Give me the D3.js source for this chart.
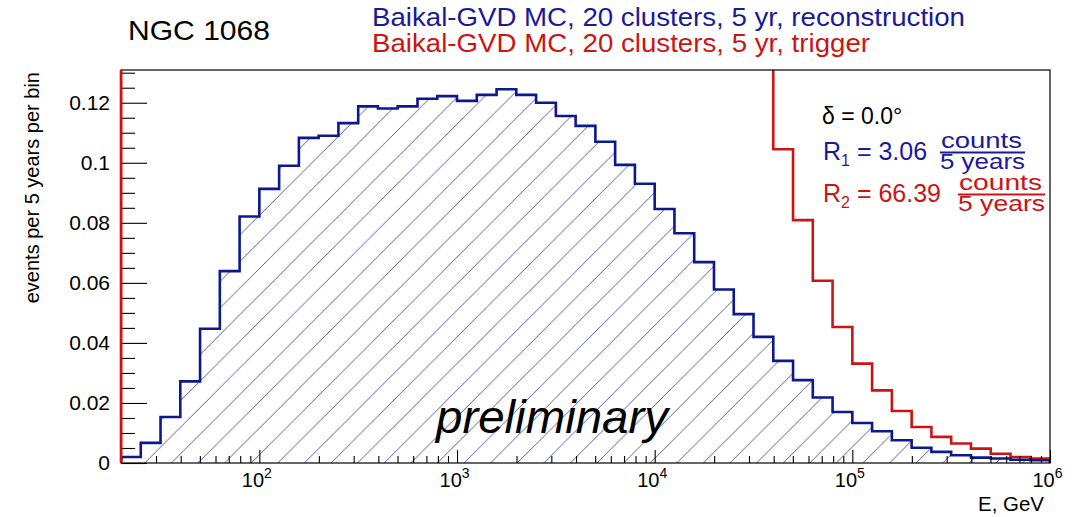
<!DOCTYPE html>
<html><head><meta charset="utf-8">
<script src="https://cdn.jsdelivr.net/npm/d3@7"></script>
<style>
body{margin:0;background:#fff;}
svg{display:block;font-family:"Liberation Sans",Arial,Helvetica,sans-serif;}
</style>
</head><body>
<svg id="chart" width="1084" height="517"></svg>
<script>
// ---- data ----
const logEnergyMin = 1.3;      // first bin lower edge, log10(E/GeV)
const logEnergyMax = 6.0;      // last bin upper edge
const reconstruction = [
  0.0020, 0.0067, 0.0153, 0.0272, 0.0447, 0.0639, 0.0821, 0.0913, 0.0990, 0.1083,
  0.1090, 0.1132, 0.1188, 0.1181, 0.1188, 0.1213, 0.1222, 0.1206, 0.1226, 0.1245,
  0.1226, 0.1200, 0.1156, 0.1123, 0.1070, 0.0993, 0.0930, 0.0846, 0.0765, 0.0669,
  0.0578, 0.0496, 0.0420, 0.0340, 0.0276, 0.0218, 0.0170, 0.0133, 0.0106, 0.0076,
  0.0051, 0.0037, 0.0026, 0.0018, 0.0015, 0.0011, 0.0009
];
const trigger = [
  0.35, 0.60, 0.95, 1.35, 1.80, 2.20, 2.55, 2.80, 3.00, 3.15,
  3.25, 3.30, 3.35, 3.35, 3.30, 3.20, 3.10, 2.95, 2.80, 2.60,
  2.40, 2.20, 1.95, 1.70, 1.45, 1.20, 0.98, 0.78, 0.60, 0.45,
  0.33, 0.23, 0.16, 0.1045, 0.0809, 0.0607, 0.0453, 0.0331, 0.0242, 0.0173,
  0.0120, 0.0087, 0.0065, 0.0048, 0.0031, 0.0020, 0.0015
];
const yMax = 0.1309;
const yTickValues = [0, 0.02, 0.04, 0.06, 0.08, 0.10, 0.12];
const yTickLabels = ["0", "0.02", "0.04", "0.06", "0.08", "0.1", "0.12"];
const xTickValues = [1e2, 1e3, 1e4, 1e5, 1e6];
const xTickExponents = ["2", "3", "4", "5", "6"];
const titleText = "NGC 1068";
const legendTexts = ["Baikal-GVD MC, 20 clusters, 5 yr, reconstruction",
                     "Baikal-GVD MC, 20 clusters, 5 yr, trigger"];
const yAxisTitle = "events per 5 years per bin";
const xAxisTitle = "E, GeV";
const declinationText = "δ = 0.0°";
const rates = [{sub: "1", value: "3.06"}, {sub: "2", value: "66.39"}];

// ---- layout ----
const W = 1084, H = 517;
const plot = {left: 121, right: 1050, top: 70, bottom: 463};
const blue = "#0c1890", red = "#cc1414", blueText = "#1a1a99";

const svg = d3.select("#chart");
svg.append("rect").attr("width", W).attr("height", H).attr("fill", "#fff");

const nBins = reconstruction.length;
const binWidthLog = (logEnergyMax - logEnergyMin) / nBins;
const edges = d3.range(nBins + 1).map(i => Math.pow(10, logEnergyMin + i * binWidthLog));

const x = d3.scaleLog().domain([edges[0], edges[nBins]]).range([plot.left, plot.right]);
const y = d3.scaleLinear().domain([0, yMax]).range([plot.bottom, plot.top]);

const defs = svg.append("defs");
defs.append("clipPath").attr("id", "clip").append("rect")
  .attr("x", plot.left).attr("y", plot.top)
  .attr("width", plot.right - plot.left).attr("height", plot.bottom - plot.top);
const hs = 26.6;
const pat = defs.append("pattern").attr("id", "hatch").attr("patternUnits", "userSpaceOnUse")
  .attr("width", hs).attr("height", hs).attr("x", plot.left + 8).attr("y", 0);
pat.append("path")
  .attr("d", `M0,${hs} L${hs},0 M${-hs/2},${hs/2} L${hs/2},${-hs/2} M${hs/2},${hs*1.5} L${hs*1.5},${hs/2}`)
  .attr("stroke", "#3c3c8c").attr("stroke-width", 0.85).attr("fill", "none");

function stepPath(vals) {
  let p = `M${x(edges[0])},${y(0)}`;
  vals.forEach((v, i) => {
    p += ` V${y(v)} H${x(edges[i + 1])}`;
  });
  p += ` V${y(0)}`;
  return p;
}

const g = svg.append("g").attr("clip-path", "url(#clip)");
g.append("path").attr("d", stepPath(reconstruction) + " Z")
  .attr("fill", "url(#hatch)").attr("stroke", "none");

// frame
svg.append("rect").attr("x", plot.left).attr("y", plot.top)
  .attr("width", plot.right - plot.left).attr("height", plot.bottom - plot.top)
  .attr("fill", "none").attr("stroke", "#000").attr("stroke-width", 1.2);

// y axis
const yMinor = d3.range(0, yMax + 1e-9, 0.005).filter(v => Math.abs(v / 0.02 - Math.round(v / 0.02)) > 1e-6);
const yAxisG = svg.append("g").attr("transform", `translate(${plot.left},0)`)
  .call(d3.axisLeft(y).tickValues(yTickValues).tickSize(-26).tickPadding(11)
        .tickFormat((d, i) => yTickLabels[i]));
svg.append("g").attr("transform", `translate(${plot.left},0)`)
  .call(d3.axisLeft(y).tickValues(yMinor).tickSize(-14).tickFormat(""));
// x axis
const xMinor = [];
for (let dec = 10; dec < 1e6; dec *= 10) for (let k = 2; k <= 9; k++) {
  const v = dec * k; if (v > edges[0] && v < edges[nBins]) xMinor.push(v);
}
const xAxisG = svg.append("g").attr("transform", `translate(0,${plot.bottom})`)
  .call(d3.axisBottom(x).tickValues(xTickValues).tickSize(-13).tickPadding(0).tickFormat(() => ""));
svg.append("g").attr("transform", `translate(0,${plot.bottom})`)
  .call(d3.axisBottom(x).tickValues(xMinor).tickSize(-7).tickFormat(""));

svg.selectAll(".domain").remove();
svg.selectAll(".tick line").attr("stroke", "#000").attr("stroke-width", 1.1);
yAxisG.selectAll("text").attr("font-size", 21).attr("fill", "#000")
  .attr("font-family", "Liberation Sans, Arial, sans-serif");
xAxisG.selectAll(".tick text").each(function (d, i) {
  const t = d3.select(this);
  t.attr("font-size", 20).attr("fill", "#000").attr("y", 24).attr("dy", 0).attr("dx", -3)
   .attr("font-family", "Liberation Sans, Arial, sans-serif");
  t.text(null);
  t.append("tspan").text("10");
  t.append("tspan").attr("font-size", 14).attr("dy", -9).text(xTickExponents[i]);
});

// histogram outlines
g.append("path").attr("d", stepPath(trigger)).attr("fill", "none")
  .attr("stroke", red).attr("stroke-width", 2.6);
g.append("path").attr("d", stepPath(reconstruction)).attr("fill", "none")
  .attr("stroke", blue).attr("stroke-width", 2.6);
svg.append("line").attr("x1", x(edges[0])).attr("x2", x(edges[0]))
  .attr("y1", y(0)).attr("y2", plot.top)
  .attr("stroke", red).attr("stroke-width", 2.6);

// texts
function txt(xp, yp, s, size, color, len) {
  const t = svg.append("text").attr("x", xp).attr("y", yp).attr("font-size", size).attr("fill", color).text(s);
  if (len) t.attr("textLength", len).attr("lengthAdjust", "spacingAndGlyphs");
  return t;
}
txt(128, 40, titleText, 28, "#000", 142);
txt(372, 26, legendTexts[0], 26, blueText, 593);
txt(372, 52, legendTexts[1], 26, red, 498);

svg.append("text").attr("transform", `translate(39,72) rotate(-90)`).attr("text-anchor", "end")
  .attr("font-size", 20).attr("fill", "#000").text(yAxisTitle);
txt(978, 511, xAxisTitle, 20, "#000", 66);

txt(436, 433, "preliminary", 47, "#000", 232).attr("font-style", "italic");

// annotation
txt(822, 124, declinationText, 23, "#000");
const rateFs = 25;
function rateLine(r, yb, color, fracX, fracW) {
  const t = svg.append("text").attr("x", 823).attr("y", yb).attr("font-size", rateFs).attr("fill", color);
  t.append("tspan").text("R");
  t.append("tspan").attr("font-size", 16).attr("dy", 6).text(r.sub);
  t.append("tspan").attr("dy", -6).text(" = " + r.value);
  txt(fracX + 1, yb - 12, "counts", 22, color, fracW - 4);
  svg.append("line").attr("x1", fracX).attr("x2", fracX + fracW).attr("y1", yb - 7.5).attr("y2", yb - 7.5)
    .attr("stroke", color).attr("stroke-width", 1.8);
  txt(fracX, yb + 9, "5 years", 22, color, fracW);
}
rateLine(rates[0], 160, blueText, 940, 85);
rateLine(rates[1], 202, red, 958, 87);
</script>
</body></html>
